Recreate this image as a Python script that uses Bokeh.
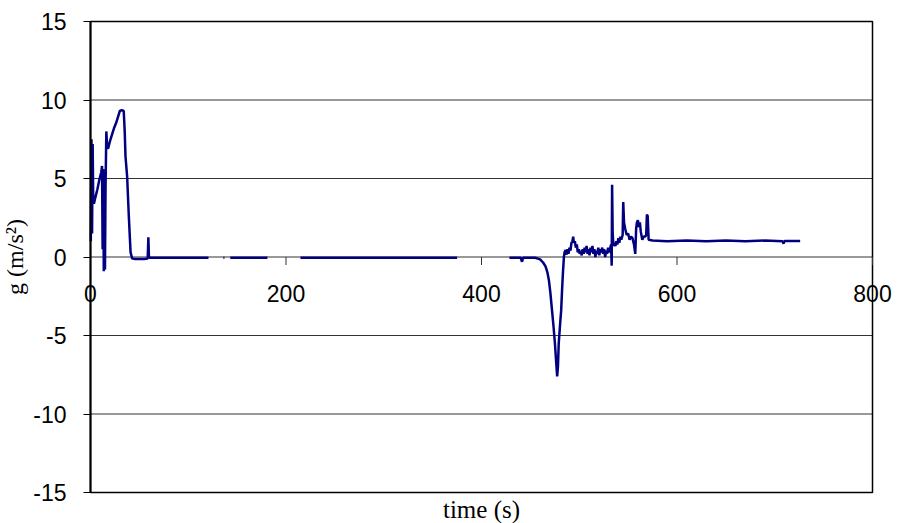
import numpy as np
from bokeh.plotting import figure
from bokeh.models import (FixedTicker, ColumnDataSource, LabelSet, Label,
                          PrintfTickFormatter, Range1d)
from bokeh.core.properties import value
from bokeh.embed import file_html
from bokeh.resources import INLINE

nan = float("nan")

# time (s)
time_s = [
    0.3, 1.0, 1.6, 2.2, 2.8, 3.5, 5.0, 7.0, 9.0, 11.0, 11.8, 12.4, 13.0, 13.6, 14.2, 14.8,
    15.4, 16.2, 17.0, 18.0, 20.0, 22.0, 24.0, 26.0, 28.0, 30.0, 32.0, 34.0, 35.0, 35.8,
    37.5, 39.2, 41.0, 42.6, 45.0, 50.0, 55.0, 58.5, 59.2, 59.8, 62.0, 70.0, 80.0, 90.0,
    100.0, 110.0, 120.7, 128.0,
    136.0, 137.0, 140.0,
    143.0, 150.0, 160.0, 170.0, 181.0, 198.0,
    214.8, 240.0, 270.0, 300.0, 330.0, 360.0, 375.0, 400.0,
    428.6, 435.0, 440.0, 441.5, 442.5, 450.0, 455.0, 460.0, 463.0, 465.5, 467.5, 469.0,
    470.5, 472.0, 473.5, 475.0, 476.5, 477.4, 478.2, 479.0, 480.5, 481.5, 482.5, 483.5,
    484.3, 485.0, 486.0, 487.0, 488.0, 489.0, 490.0, 491.0, 492.0, 493.0, 493.8, 494.5,
    495.5, 496.5, 497.5, 498.5, 499.5, 500.5, 501.5, 502.5, 503.5, 504.5, 505.5, 506.5,
    507.5, 508.5, 509.5, 510.5, 511.5, 512.5, 513.5, 514.5, 515.5, 516.5, 517.5, 518.5,
    519.5, 520.5, 521.5, 522.5, 523.5, 524.5, 525.5, 526.5, 527.5, 528.5, 529.5, 530.5,
    531.5, 532.5, 533.2, 533.6, 534.2, 535.0, 536.0, 537.0, 538.0, 539.0, 540.0, 541.0,
    542.0, 543.0, 544.4, 545.0, 545.8, 547.0, 548.5, 550.0, 551.5, 553.0, 554.5, 556.0,
    557.3, 558.2, 559.0, 560.0, 561.0, 562.0, 563.0, 564.5, 566.0, 567.5, 568.5, 569.2,
    570.0, 571.0, 575.0, 590.0, 610.0, 630.0, 650.0, 670.0, 690.0, 708.0, 709.0, 710.0,
    726.0,
]

# acceleration g (m/s^2)
g_ms2 = [
    1.0, 7.5, 1.5, 7.2, 3.5, 3.4, 3.8, 4.3, 4.9, 5.4, 5.8, 0.5, 5.6, -0.9, 5.0, -0.8,
    4.5, 8.0, 7.0, 6.9, 7.4, 7.8, 8.2, 8.5, 8.9, 9.3, 9.35, 9.3, 8.0, 6.4,
    5.1, 2.6, 0.3, -0.1, -0.12, -0.13, -0.12, -0.1, 1.25, -0.05, -0.05, -0.04, -0.04, -0.04,
    -0.04, -0.04, -0.04, nan,
    -0.04, -0.04, nan,
    -0.04, -0.04, -0.04, -0.04, -0.04, nan,
    -0.04, -0.04, -0.04, -0.04, -0.04, -0.04, -0.04, nan,
    -0.05, -0.05, -0.05, -0.3, -0.05, -0.05, -0.05, -0.15, -0.35, -0.6, -1.0, -1.5,
    -2.3, -3.3, -4.3, -5.4, -6.8, -7.6, -7.0, -5.5, -4.2, -3.4, -2.0, -0.8,
    0.0, 0.3, 0.45, 0.15, 0.5, 0.2, 0.6, 0.4, 0.9, 1.0, 1.3, 0.9,
    1.0, 0.6, 0.8, 0.3, 0.5, 0.2, 0.4, 0.1, 0.5, 0.2, 0.6, 0.3,
    0.7, 0.2, 0.5, 0.1, 0.6, 0.3, 0.7, 0.2, 0.5, 0.0, 0.4, 0.2,
    0.6, 0.1, 0.5, 0.3, 0.6, 0.2, 0.5, 0.0, 0.4, 0.2, 0.6, 0.3,
    0.5, 0.8, -0.55, 4.6, 1.5, 0.7, 0.9, 0.7, 1.0, 0.8, 1.2, 0.9,
    1.3, 1.1, 1.4, 3.5, 2.2, 1.8, 1.4, 1.5, 1.1, 1.3, 1.2, 0.8,
    0.2, 1.8, 2.2, 2.35, 1.9, 2.2, 1.6, 1.1, 1.3, 1.3, 1.4, 2.7,
    2.6, 1.1, 1.05, 1.0, 1.05, 1.0, 1.05, 1.0, 1.05, 1.0, 0.85, 1.02,
    1.02,
]

x_min, x_max = 0, 800
y_min, y_max = -15, 15
x_ticks = [0, 200, 400, 600, 800]
x_tick_labels = ["0", "200", "400", "600", "800"]
y_ticks = [-15, -10, -5, 0, 5, 10, 15]

# page layout in pixels (plot area inside the canvas)
W, H = 897, 523
AREA_L, AREA_R, AREA_T, AREA_B = 90, 872, 21, 492
sx = (AREA_R - AREA_L) / (x_max - x_min)
sy = (AREA_B - AREA_T) / (y_max - y_min)
xr = Range1d(x_min - AREA_L / sx, x_max + (W - AREA_R) / sx)
yr = Range1d(y_min - (H - AREA_B) / sy, y_max + AREA_T / sy)
TICK_PX = 8

src = ColumnDataSource(data=dict(t=time_s, g=g_ms2))

p = figure(width=W, height=H, output_backend="svg", toolbar_location=None,
           x_range=xr, y_range=yr,
           min_border_left=0, min_border_right=0, min_border_top=0, min_border_bottom=0,
           background_fill_color="white", border_fill_color="white")
p.outline_line_color = None
p.xgrid.visible = False
p.ygrid.visible = False
p.xaxis.visible = False

# horizontal gridlines across the plot area
inner = [v for v in y_ticks if v not in (y_min, y_max)]
p.segment(x0=[x_min] * len(inner), x1=[x_max] * len(inner), y0=inner, y1=inner,
          line_color="#333333", line_width=1)
# plot-area border
p.quad(left=[x_min], right=[x_max], bottom=[y_min], top=[y_max],
       fill_color=None, line_color="black", line_width=1.5)
# x-axis tick marks hanging from the y = 0 line
p.segment(x0=x_ticks, x1=x_ticks, y0=[0] * len(x_ticks), y1=[-TICK_PX / sy] * len(x_ticks),
          line_color="#333333", line_width=1)

p.line("t", "g", source=src, line_color="#000080", line_width=2.5)

# y axis at x = 0
ya = p.yaxis[0]
ya.fixed_location = x_min
ya.bounds = (y_min, y_max)
ya.ticker = FixedTicker(ticks=y_ticks)
ya.formatter = PrintfTickFormatter(format="%d")
ya.axis_label = "g (m/s²)"
ya.axis_label_text_font = "Liberation Serif"
ya.axis_label_text_font_style = "normal"
ya.axis_label_text_font_size = "24px"
ya.axis_label_text_color = "black"
ya.axis_label_standoff = 2
ya.major_label_text_font = "Liberation Sans"
ya.major_label_text_font_size = "23px"
ya.major_label_text_color = "black"
ya.major_label_standoff = 17
ya.major_tick_out = 7
ya.major_tick_in = 0
ya.minor_tick_out = 0
ya.minor_tick_in = 0
ya.axis_line_color = "black"
ya.axis_line_width = 2
ya.major_tick_line_color = "black"

lab_src = ColumnDataSource(data=dict(x=x_ticks, y=[0] * len(x_ticks), text=x_tick_labels))
p.add_layout(LabelSet(x="x", y="y", text="text", source=lab_src,
                      text_align="center", text_baseline="alphabetic", y_offset=-45,
                      text_font=value("Liberation Sans"), text_font_size=value("23px"),
                      text_color="black"))

p.add_layout(Label(x=(x_min + x_max) / 2, y=y_min, text="time (s)", text_align="center",
                   text_baseline="alphabetic", y_offset=-17,
                   text_font="Liberation Serif", text_font_size="25px", text_color="black"))

open("out.html", "w").write(file_html(p, INLINE))
